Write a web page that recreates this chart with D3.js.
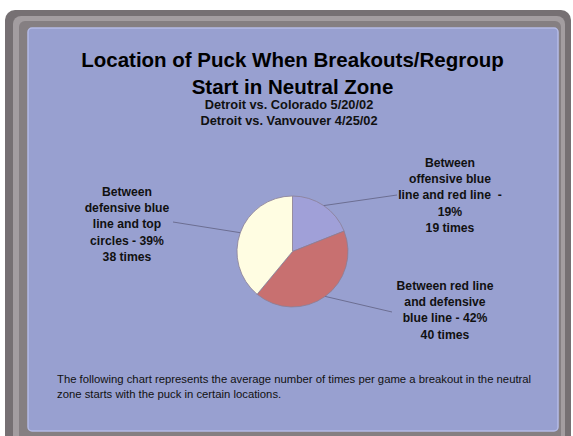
<!DOCTYPE html>
<html><head><meta charset="utf-8">
<script src="https://cdn.jsdelivr.net/npm/d3@7"></script>
<style>html,body{margin:0;padding:0;background:#fff;}svg{display:block;}</style>
</head><body>
<script>
const categories = ["Between offensive blue line and red line", "Between red line and defensive blue line", "Between defensive blue line and top circles"];
const percents = [19, 42, 39];
const times = [19, 40, 38];
const labelLines = [
  ["Between", "offensive blue", "line and red line  -", "19%", "19 times"],
  ["Between red line", "and defensive", "blue line - 42%", "40 times"],
  ["Between", "defensive blue", "line and top", "circles - 39%", "38 times"]
];
const colors = ["#a0a0d8", "#c87070", "#fffde2"];
const titleLines = ["Location of Puck When Breakouts/Regroup", "Start in Neutral Zone"];
const subtitleLines = ["Detroit vs. Colorado 5/20/02", "Detroit vs. Vanvouver 4/25/02"];
const footerLines = ["The following chart represents the average number of times per game a breakout in the neutral", "zone starts with the puck in certain locations."];

const W = 573, H = 436;
const svg = d3.select("body").append("svg").attr("width", W).attr("height", H);

// frame
svg.append("rect").attr("x", 5).attr("y", 10).attr("width", 566).attr("height", 440).attr("rx", 10).attr("fill", "#767073");
svg.append("rect").attr("x", 13).attr("y", 16).attr("width", 552).attr("height", 430).attr("rx", 8).attr("fill", "#a39da0");
svg.append("rect").attr("x", 19).attr("y", 21).attr("width", 542).attr("height", 420).attr("rx", 6).attr("fill", "#857f82");
svg.append("rect").attr("x", 28).attr("y", 28).attr("width", 530).attr("height", 403).attr("rx", 4)
  .attr("fill", "#98a0d0").attr("stroke", "#b4bbe6").attr("stroke-width", 1.5);

const font = "'Liberation Sans', Arial, sans-serif";

// title
const cx = 292.5;
svg.selectAll(".title").data(titleLines).enter().append("text")
  .attr("x", cx).attr("y", (d, i) => 67 + i * 26.5)
  .attr("text-anchor", "middle").attr("font-family", font).attr("font-weight", "bold")
  .attr("font-size", 20.5).attr("fill", "#000").text(d => d);
svg.selectAll(".sub").data(subtitleLines).enter().append("text")
  .attr("x", 289).attr("y", (d, i) => 109 + i * 16)
  .attr("text-anchor", "middle").attr("font-family", font).attr("font-weight", "bold")
  .attr("font-size", 12.8).attr("fill", "#111").text(d => d);

// pie
const pieC = [292.5, 251.5], R = 55.5;
const pie = d3.pie().sort(null).value(d => d)(percents);
const arc = d3.arc().innerRadius(0).outerRadius(R);
const g = svg.append("g").attr("transform", `translate(${pieC[0]},${pieC[1]})`);
g.selectAll("path").data(pie).enter().append("path")
  .attr("d", arc).attr("fill", (d, i) => colors[i])
  .attr("stroke", "#8a7f95").attr("stroke-width", 0.8);

// leader lines
const labelAnchors = [[397, 195], [392, 312], [173, 222]];
const labelPos = [{x: 450, y: 167}, {x: 445, y: 290}, {x: 127, y: 196}];
pie.forEach((d, i) => {
  const a = (d.startAngle + d.endAngle) / 2;
  const x0 = pieC[0] + R * Math.sin(a), y0 = pieC[1] - R * Math.cos(a);
  svg.append("line").attr("x1", x0).attr("y1", y0)
    .attr("x2", labelAnchors[i][0]).attr("y2", labelAnchors[i][1])
    .attr("stroke", "#6c6e92").attr("stroke-width", 1);
});

// labels
labelLines.forEach((lines, i) => {
  svg.append("g").selectAll("text").data(lines).enter().append("text")
    .attr("x", labelPos[i].x).attr("y", (d, j) => labelPos[i].y + j * 16.2)
    .attr("text-anchor", "middle").attr("font-family", font).attr("font-weight", "bold")
    .attr("font-size", 12.2).attr("fill", "#111").attr("xml:space", "preserve")
    .style("white-space", "pre").text(d => d);
});

// footer
svg.selectAll(".foot").data(footerLines).enter().append("text")
  .attr("x", 57).attr("y", (d, i) => 383 + i * 14.5)
  .attr("font-family", font).attr("font-size", 11.3).attr("fill", "#111").text(d => d);
</script>
</body></html>
